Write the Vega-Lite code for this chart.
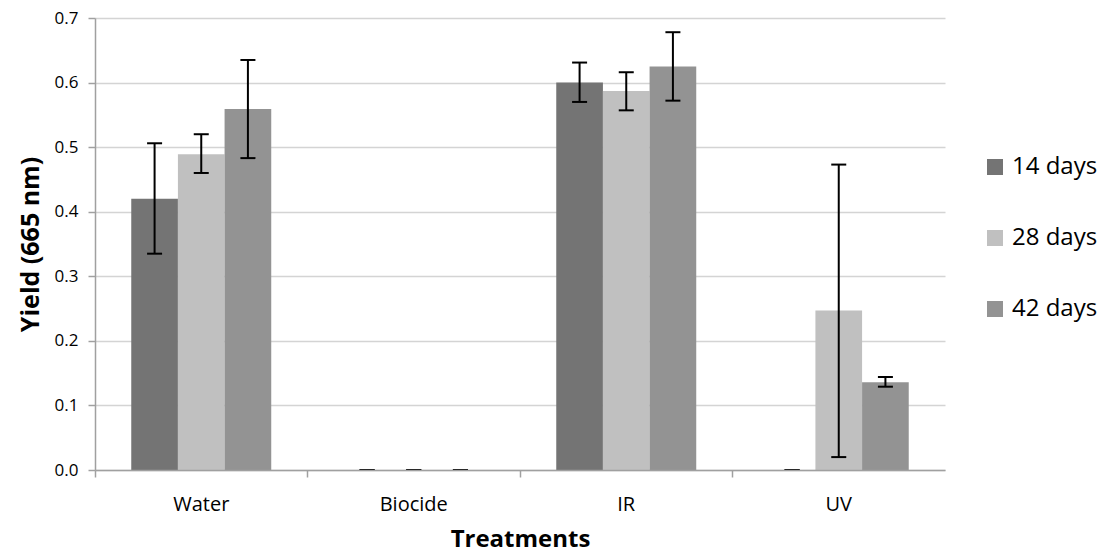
{
  "$schema": "https://vega.github.io/schema/vega-lite/v6.json",
  "width": 850,
  "height": 452,
  "autosize": "none",
  "padding": {"left": 95, "top": 18, "right": 164, "bottom": 88},
  "background": "white",
  "config": {"view": {"stroke": null}, "font": "Open Sans"},
  "data": {
    "values": [
      {"treatment": "Water", "period": "14 days", "value": 0.420, "lo": 0.335, "hi": 0.506},
      {"treatment": "Water", "period": "28 days", "value": 0.489, "lo": 0.460, "hi": 0.520},
      {"treatment": "Water", "period": "42 days", "value": 0.559, "lo": 0.483, "hi": 0.635},
      {"treatment": "Biocide", "period": "14 days", "value": 0, "lo": 0, "hi": 0},
      {"treatment": "Biocide", "period": "28 days", "value": 0, "lo": 0, "hi": 0},
      {"treatment": "Biocide", "period": "42 days", "value": 0, "lo": 0, "hi": 0},
      {"treatment": "IR", "period": "14 days", "value": 0.600, "lo": 0.570, "hi": 0.631},
      {"treatment": "IR", "period": "28 days", "value": 0.587, "lo": 0.557, "hi": 0.616},
      {"treatment": "IR", "period": "42 days", "value": 0.625, "lo": 0.572, "hi": 0.678},
      {"treatment": "UV", "period": "14 days", "value": 0, "lo": 0, "hi": 0},
      {"treatment": "UV", "period": "28 days", "value": 0.247, "lo": 0.020, "hi": 0.473},
      {"treatment": "UV", "period": "42 days", "value": 0.136, "lo": 0.129, "hi": 0.144}
    ]
  },
  "encoding": {
    "x": {
      "field": "treatment",
      "type": "nominal",
      "sort": ["Water", "Biocide", "IR", "UV"],
      "scale": {"paddingInner": 0, "paddingOuter": 0},
      "axis": {
        "title": "Treatments",
        "titleFontSize": 24,
        "titleFontWeight": "bold",
        "titleColor": "#000000",
        "titleX": 425,
        "titleY": 76,
        "titleAlign": "center",
        "titleBaseline": "alphabetic",
        "labelAngle": 0,
        "labelFontSize": 20,
        "labelColor": "#000000",
        "labelPadding": 17,
        "bandPosition": 0,
        "tickSize": 7,
        "tickWidth": 1.5,
        "tickColor": "#a0a0a0",
        "domainColor": "#a0a0a0",
        "domainWidth": 1.5,
        "zindex": 1
      }
    },
    "xOffset": {
      "field": "period",
      "type": "nominal",
      "sort": ["14 days", "28 days", "42 days"],
      "scale": {"paddingInner": 0, "paddingOuter": 0.777}
    }
  },
  "layer": [
    {
      "mark": {"type": "bar"},
      "encoding": {
        "y": {
          "field": "value",
          "type": "quantitative",
          "scale": {"domain": [0, 0.7], "nice": false},
          "axis": {
            "values": [0, 0.1, 0.2, 0.3, 0.4, 0.5, 0.6, 0.7],
            "format": ".1f",
            "title": "Yield (665 nm)",
            "titleFontSize": 25,
            "titleFontWeight": "bold",
            "titleColor": "#000000",
            "titleAngle": -90,
            "titleX": -65,
            "titleY": 226,
            "titleAlign": "center",
            "titleBaseline": "middle",
            "labelFontSize": 17,
            "labelColor": "#000000",
            "labelPadding": 10,
            "tickSize": 7,
            "tickWidth": 1.5,
            "tickColor": "#a0a0a0",
            "domainColor": "#a0a0a0",
            "domainWidth": 1.5,
            "grid": true,
            "gridColor": "#d4d4d4",
            "gridWidth": 1.5
          }
        },
        "color": {
          "field": "period",
          "type": "nominal",
          "scale": {"domain": ["14 days", "28 days", "42 days"], "range": ["#747474", "#c0c0c0", "#939393"]},
          "legend": {
            "title": null,
            "orient": "none",
            "legendX": 888,
            "legendY": 137,
            "symbolType": "square",
            "symbolSize": 256,
            "symbolStrokeWidth": 0,
            "labelFontSize": 24,
            "labelColor": "#000000",
            "labelOffset": 5,
            "rowPadding": 47
          }
        }
      }
    },
    {
      "mark": {"type": "rule", "color": "#000000", "strokeWidth": 2},
      "encoding": {
        "y": {"field": "lo", "type": "quantitative"},
        "y2": {"field": "hi"}
      }
    },
    {
      "mark": {"type": "tick", "color": "#000000", "thickness": 2, "size": 15, "opacity": 1},
      "encoding": {"y": {"field": "lo", "type": "quantitative"}}
    },
    {
      "mark": {"type": "tick", "color": "#000000", "thickness": 2, "size": 15, "opacity": 1},
      "encoding": {"y": {"field": "hi", "type": "quantitative"}}
    }
  ]
}
